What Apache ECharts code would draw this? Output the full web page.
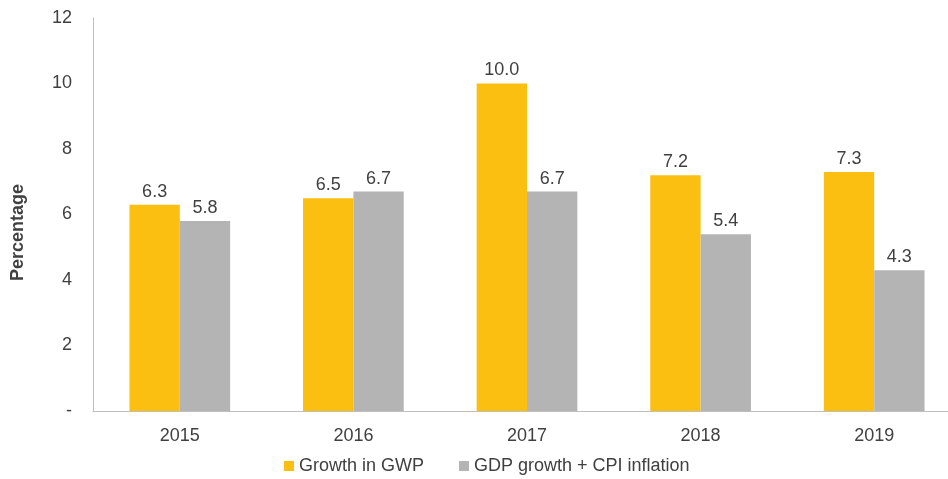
<!DOCTYPE html>
<html>
<head>
<meta charset="utf-8">
<script src="https://cdn.jsdelivr.net/npm/echarts@6/dist/echarts.min.js"></script>
<style>
  html, body { margin: 0; padding: 0; background: #fff; }
  #chart { width: 948px; height: 479px; }
</style>
</head>
<body>
<div id="chart"></div>
<script>
const years = ['2015', '2016', '2017', '2018', '2019']
const gwpGrowth = [6.3, 6.5, 10.0, 7.2, 7.3]
const gdpCpi = [5.8, 6.7, 6.7, 5.4, 4.3]

const textColor = '#404040'
const font = 'Liberation Sans, Arial, sans-serif'

const chart = echarts.init(document.getElementById('chart'))

const labelStyle = {
  show: true,
  position: 'top',
  distance: 4,
  color: textColor,
  fontSize: 18,
  fontFamily: font,
  formatter: p => p.value.toFixed(1)
}

chart.setOption({
  animation: false,
  textStyle: { fontFamily: font },
  grid: {
    left: 93,
    top: 18,
    width: 868,
    bottom: 68,
    outerBoundsMode: 'none',
    containLabel: false
  },
  legend: {
    top: 457,
    left: 284,
    padding: 0,
    itemWidth: 10,
    itemHeight: 10,
    itemGap: 35,
    icon: 'rect',
    textStyle: { color: textColor, fontSize: 18, fontFamily: font },
    data: ['Growth in GWP', 'GDP growth + CPI inflation']
  },
  xAxis: {
    type: 'category',
    data: years,
    axisLine: { lineStyle: { color: '#bfbfbf', width: 1 } },
    axisTick: { show: false },
    axisLabel: { color: textColor, fontSize: 18, fontFamily: font, margin: 16 }
  },
  yAxis: {
    type: 'value',
    min: 0,
    max: 12,
    interval: 2,
    name: 'Percentage',
    nameLocation: 'middle',
    nameGap: 66,
    nameTextStyle: { color: textColor, fontSize: 18, fontWeight: 'bold', fontFamily: font, padding: [0, 36, 0, 0] },
    axisLine: { show: true, lineStyle: { color: '#bfbfbf', width: 1 } },
    axisTick: { show: false },
    splitLine: { show: false },
    axisLabel: {
      color: textColor,
      fontSize: 18,
      fontFamily: font,
      margin: 21,
      formatter: v => (v === 0 ? '-' : String(v))
    }
  },
  series: [
    {
      name: 'Growth in GWP',
      type: 'bar',
      data: gwpGrowth,
      barGap: '0%',
      barCategoryGap: '42%',
      itemStyle: { color: '#FBBF12' },
      label: labelStyle
    },
    {
      name: 'GDP growth + CPI inflation',
      type: 'bar',
      data: gdpCpi,
      barGap: '0%',
      barCategoryGap: '42%',
      itemStyle: { color: '#B4B4B4' },
      label: labelStyle
    }
  ]
})
</script>
</body>
</html>
